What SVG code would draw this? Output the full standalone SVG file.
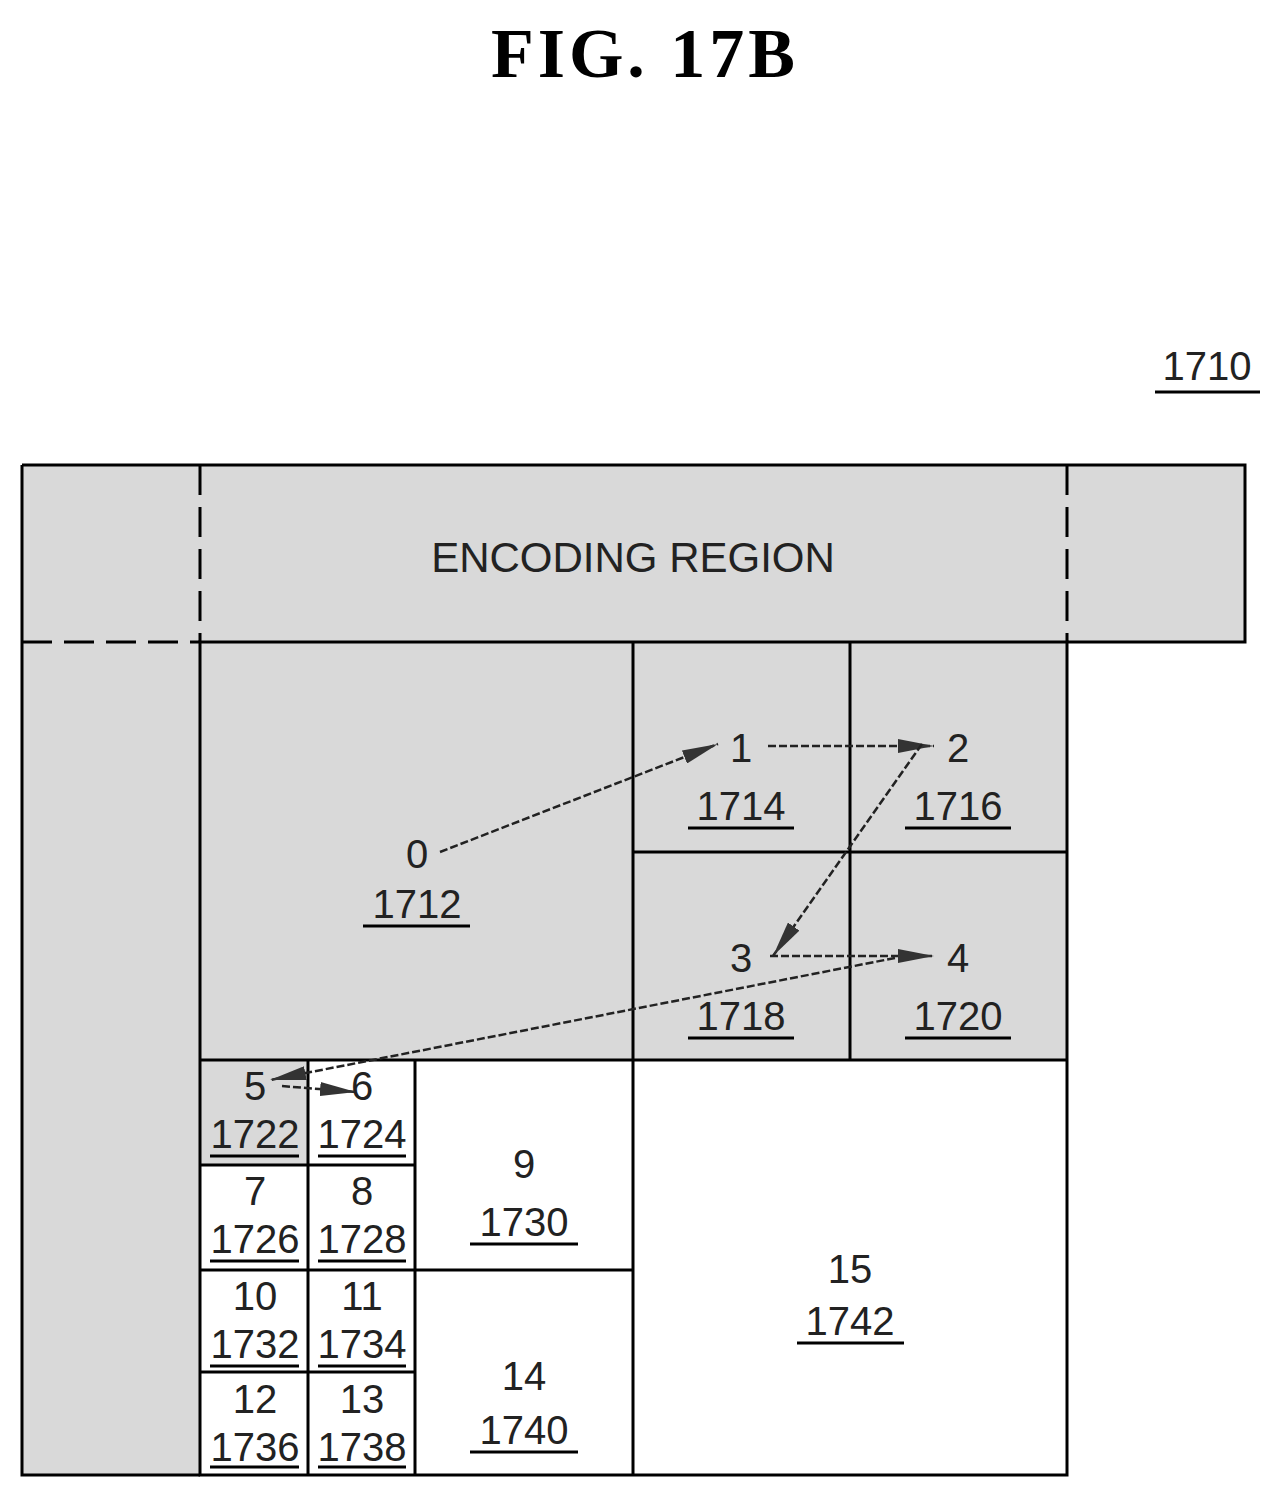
<svg xmlns="http://www.w3.org/2000/svg" width="1283" height="1499" viewBox="0 0 1283 1499">
<style>
.g{fill:#d9d9d9;stroke:none}
.b{fill:none;stroke:#000;stroke-width:3}
.d{fill:none;stroke:#000;stroke-width:3;stroke-dasharray:30 12}
.t{font-family:"Liberation Sans",Arial,sans-serif;font-size:40px;text-anchor:middle;fill:#222}
.u{stroke:#000;stroke-width:3}
.c{fill:none;stroke:#222;stroke-width:2.5;stroke-dasharray:8 3}
</style>
<defs>
<marker id="al" markerWidth="36" markerHeight="14" refX="36" refY="7" orient="auto" markerUnits="userSpaceOnUse" viewBox="0 0 36 14"><path d="M0,0 L36,7 L0,14 z" fill="#333"/></marker>
</defs>
<text x="645" y="77" style="font-family:'Liberation Serif',serif;font-size:70px;font-weight:bold;text-anchor:middle;letter-spacing:4px">FIG.  17B</text>
<text x="1207" y="380" class="t">1710</text>
<line x1="1155" y1="392" x2="1260" y2="392" class="u"/>
<g id="background">
<rect x="22" y="465" width="1223" height="177" class="g"/>
<rect x="22" y="642" width="178" height="833" class="g"/>
<rect x="200" y="642" width="867" height="418" class="g"/>
<rect x="200" y="1060" width="108" height="105" class="g"/>
<path d="M22,465 H1245 V642 H1067 M22,465 V1475 H200" class="b"/>
<line x1="200" y1="465" x2="200" y2="642" class="d"/>
<line x1="1067" y1="465" x2="1067" y2="642" class="d"/>
<line x1="22" y1="642" x2="200" y2="642" class="d"/>
<text x="633" y="572" class="t" style="font-size:42px">ENCODING REGION</text>
</g>
<g id="grid">
<rect x="200" y="642" width="867" height="833" class="b"/>
<line x1="633" y1="642" x2="633" y2="1475" class="b"/>
<line x1="850" y1="642" x2="850" y2="1060" class="b"/>
<line x1="633" y1="852" x2="1067" y2="852" class="b"/>
<line x1="200" y1="1060" x2="1067" y2="1060" class="b"/>
<line x1="308" y1="1060" x2="308" y2="1475" class="b"/>
<line x1="415" y1="1060" x2="415" y2="1475" class="b"/>
<line x1="200" y1="1165" x2="415" y2="1165" class="b"/>
<line x1="200" y1="1270" x2="633" y2="1270" class="b"/>
<line x1="200" y1="1372" x2="415" y2="1372" class="b"/>
</g>
<g id="n1712"><text x="417" y="868" class="t">0</text><text x="417" y="918" class="t">1712</text><line x1="363" y1="926" x2="470" y2="926" class="u"/></g>
<g id="n1714"><text x="741" y="762" class="t">1</text><text x="741" y="820" class="t">1714</text><line x1="688" y1="828" x2="794" y2="828" class="u"/></g>
<g id="n1716"><text x="958" y="762" class="t">2</text><text x="958" y="820" class="t">1716</text><line x1="905" y1="828" x2="1011" y2="828" class="u"/></g>
<g id="n1718"><text x="741" y="972" class="t">3</text><text x="741" y="1030" class="t">1718</text><line x1="688" y1="1038" x2="794" y2="1038" class="u"/></g>
<g id="n1720"><text x="958" y="972" class="t">4</text><text x="958" y="1030" class="t">1720</text><line x1="905" y1="1038" x2="1011" y2="1038" class="u"/></g>
<g id="n1722"><text x="255" y="1100" class="t">5</text><text x="255" y="1148" class="t">1722</text><line x1="210" y1="1156" x2="299" y2="1156" class="u"/></g>
<g id="n1724"><text x="362" y="1100" class="t">6</text><text x="362" y="1148" class="t">1724</text><line x1="318" y1="1156" x2="406" y2="1156" class="u"/></g>
<g id="n1726"><text x="255" y="1205" class="t">7</text><text x="255" y="1253" class="t">1726</text><line x1="210" y1="1261" x2="299" y2="1261" class="u"/></g>
<g id="n1728"><text x="362" y="1205" class="t">8</text><text x="362" y="1253" class="t">1728</text><line x1="318" y1="1261" x2="406" y2="1261" class="u"/></g>
<g id="n1730"><text x="524" y="1178" class="t">9</text><text x="524" y="1236" class="t">1730</text><line x1="470" y1="1244" x2="578" y2="1244" class="u"/></g>
<g id="n1732"><text x="255" y="1310" class="t">10</text><text x="255" y="1358" class="t">1732</text><line x1="210" y1="1366" x2="299" y2="1366" class="u"/></g>
<g id="n1734"><text x="362" y="1310" class="t">11</text><text x="362" y="1358" class="t">1734</text><line x1="318" y1="1366" x2="406" y2="1366" class="u"/></g>
<g id="n1736"><text x="255" y="1413" class="t">12</text><text x="255" y="1461" class="t">1736</text><line x1="210" y1="1467" x2="299" y2="1467" class="u"/></g>
<g id="n1738"><text x="362" y="1413" class="t">13</text><text x="362" y="1461" class="t">1738</text><line x1="318" y1="1467" x2="406" y2="1467" class="u"/></g>
<g id="n1740"><text x="524" y="1390" class="t">14</text><text x="524" y="1444" class="t">1740</text><line x1="470" y1="1452" x2="578" y2="1452" class="u"/></g>
<g id="n1742"><text x="850" y="1283" class="t">15</text><text x="850" y="1335" class="t">1742</text><line x1="797" y1="1343" x2="904" y2="1343" class="u"/></g>
<g id="connectors">
<line x1="440" y1="852" x2="718" y2="744" class="c" marker-end="url(#al)"/>
<line x1="768" y1="746" x2="934" y2="746" class="c" marker-end="url(#al)"/>
<line x1="922" y1="744" x2="773" y2="956" class="c" marker-end="url(#al)"/>
<line x1="770" y1="956" x2="934" y2="956" class="c" marker-end="url(#al)"/>
<line x1="895" y1="958" x2="270" y2="1080" class="c" marker-end="url(#al)"/>
<line x1="282" y1="1086" x2="356" y2="1092" class="c" marker-end="url(#al)"/>
</g>
</svg>
